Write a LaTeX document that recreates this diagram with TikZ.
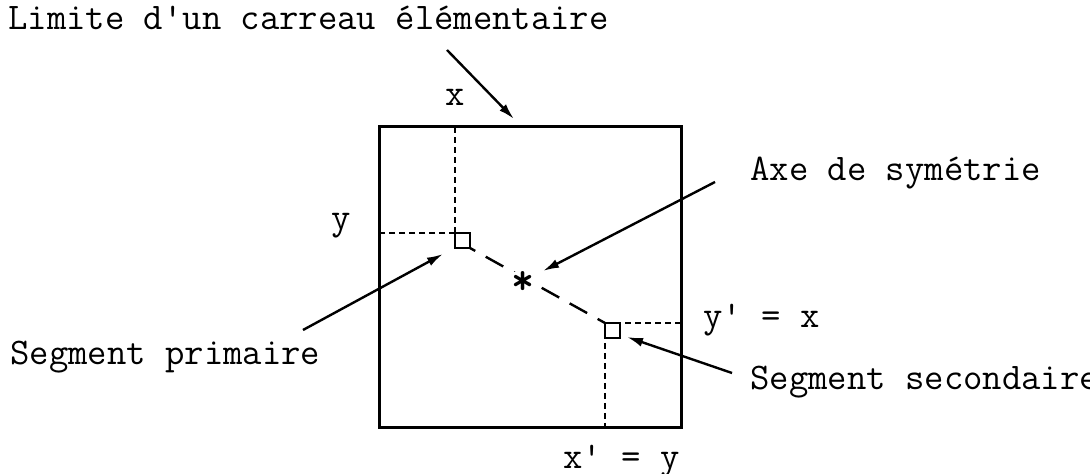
\documentclass[tikz,border=0pt]{standalone}
\usepackage{fontspec}
\usetikzlibrary{arrows.meta}

\begin{document}
\begin{tikzpicture}[x=0.5pt, y=-0.5pt, >={Latex[length=8pt,width=4.5pt]},
    lbl/.style={anchor=base west, inner sep=0pt, font=\fontsize{18.8pt}{22pt}\ttfamily},
    seg/.style={draw, line width=1.2pt, minimum size=7.5pt, inner sep=0pt, outer sep=0pt, anchor=north west},
    guide/.style={line width=1pt, dash pattern=on 3pt off 2pt},
    fleche/.style={->, line width=1.2pt}]
    \clip (0,0) rectangle (1090,474);
    \useasboundingbox (0,0) rectangle (1090,474);
    % carreau
    \node[draw, line width=1.5pt, inner sep=0pt, outer sep=0pt, minimum width=151pt, minimum height=150.5pt] (carreau) at (530,277.5) {};
    \node[seg] (prim) at (455,233) {};
    \node[seg] (sec) at (605,323) {};
    % lignes de rappel
    \draw[guide] (prim.north west) -- (prim.north west |- carreau.north);
    \draw[guide] (prim.north west) -- (prim.north west -| carreau.west);
    \draw[guide] (sec.north west) -- (sec.north west -| carreau.east);
    \draw[guide] (sec.north west) -- (sec.north west |- carreau.south);
    % axe
    \draw[line width=1.2pt, dash pattern=on 10pt off 6pt, dash phase=7pt] (prim.south east) -- (sec.north west);
    \node[fill=white, inner sep=0pt, anchor=base, font=\fontsize{22pt}{24pt}\ttfamily\bfseries] (centre) at (523,295) {*};
    % textes
    \node[lbl] (limite) at (8,30) {Limite d\textquotesingle un carreau élémentaire};
    \node[lbl, anchor=base] (lx) at (455,106) {x};
    \node[lbl, anchor=base] (ly) at (341,230) {y};
    \node[lbl] (axe) at (750,181) {Axe de symétrie};
    \node[lbl] (lyp) at (703,328) {y\textquotesingle{} = x};
    \node[lbl] (primaire) at (10,365) {Segment primaire};
    \node[lbl] (secondaire) at (750,390) {Segment secondaire};
    \node[lbl] (lxp) at (563,469) {x\textquotesingle{} = y};
    % fleches
    \coordinate (a1) at (447,50);   \coordinate (t1) at (514,119);
    \coordinate (a2) at (715,182);  \coordinate (t2) at (543,271);
    \coordinate (a3) at (303,330);  \coordinate (t3) at (443,254);
    \coordinate (a4) at (732,373);  \coordinate (t4) at (627,337);
    \draw[fleche] (a1) -- (t1);
    \draw[fleche] (a2) -- (t2);
    \draw[fleche] (a3) -- (t3);
    \draw[fleche] (a4) -- (t4);
\end{tikzpicture}
\end{document}
